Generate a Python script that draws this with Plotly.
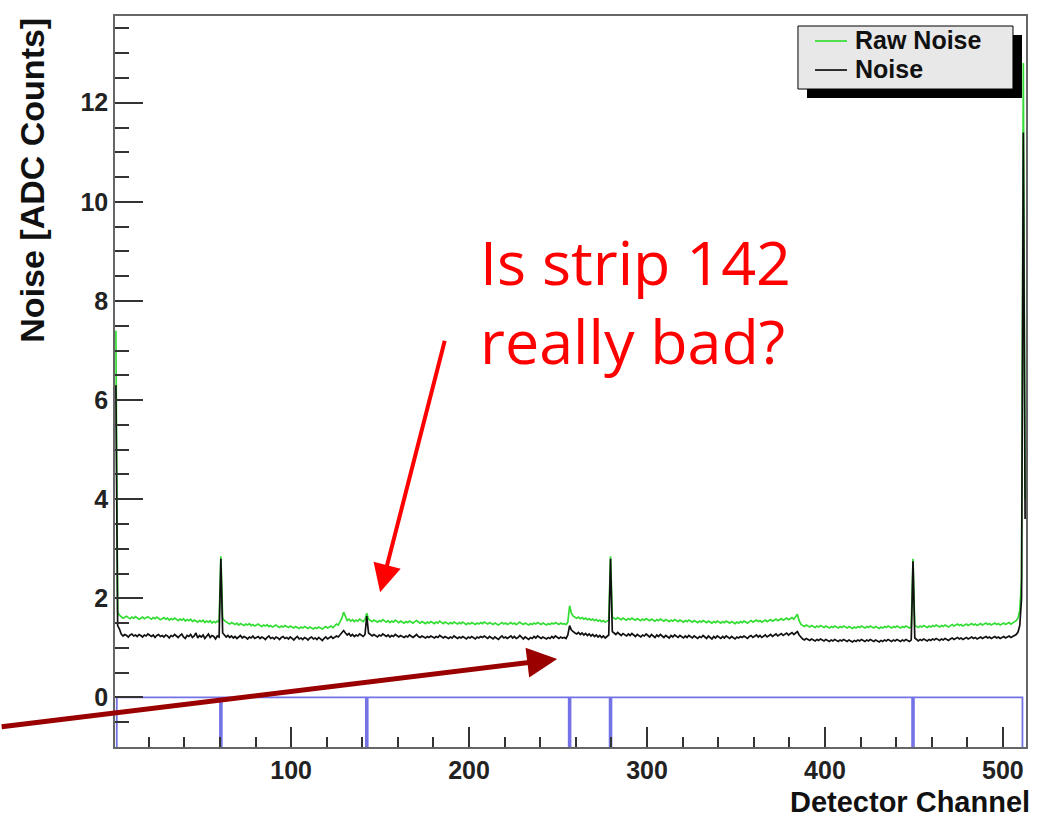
import plotly.graph_objects as go

# ---------------- data ----------------
# per-channel values, index 0 -> channel 1 ... index 511 -> channel 512
raw_noise = [
    7.40, 1.72, 1.66, 1.63, 1.60, 1.62, 1.64, 1.61, 1.59, 1.62, 1.60, 1.63, 1.61, 1.58, 1.60, 1.62,
    1.59, 1.61, 1.63, 1.60, 1.58, 1.61, 1.59, 1.62, 1.60, 1.57, 1.59, 1.61, 1.58, 1.60, 1.56, 1.59,
    1.57, 1.60, 1.58, 1.55, 1.58, 1.56, 1.59, 1.54, 1.57, 1.55, 1.58, 1.53, 1.56, 1.54, 1.52, 1.55,
    1.53, 1.56, 1.51, 1.54, 1.52, 1.55, 1.50, 1.53, 1.51, 1.54, 1.52, 2.85, 1.60, 1.55, 1.52, 1.50,
    1.48, 1.51, 1.49, 1.47, 1.50, 1.46, 1.49, 1.47, 1.45, 1.48, 1.46, 1.49, 1.45, 1.47, 1.44, 1.46,
    1.48, 1.45, 1.43, 1.46, 1.44, 1.47, 1.43, 1.45, 1.42, 1.44, 1.46, 1.43, 1.41, 1.44, 1.42, 1.45,
    1.43, 1.41, 1.44, 1.42, 1.40, 1.43, 1.41, 1.39, 1.42, 1.40, 1.43, 1.41, 1.39, 1.42, 1.40, 1.38,
    1.41, 1.39, 1.42, 1.40, 1.38, 1.41, 1.43, 1.40, 1.42, 1.44, 1.41, 1.45, 1.48, 1.46, 1.52, 1.60,
    1.72, 1.62, 1.55, 1.58, 1.54, 1.57, 1.53, 1.56, 1.54, 1.58, 1.55, 1.53, 1.57, 1.70, 1.58, 1.55,
    1.53, 1.56, 1.54, 1.52, 1.55, 1.53, 1.57, 1.54, 1.52, 1.55, 1.51, 1.54, 1.52, 1.56, 1.53, 1.51,
    1.54, 1.52, 1.50, 1.53, 1.51, 1.54, 1.52, 1.50, 1.53, 1.55, 1.52, 1.50, 1.53, 1.51, 1.49, 1.52,
    1.50, 1.53, 1.51, 1.49, 1.52, 1.50, 1.54, 1.51, 1.49, 1.52, 1.50, 1.48, 1.51, 1.49, 1.52, 1.50,
    1.48, 1.51, 1.49, 1.52, 1.50, 1.47, 1.50, 1.48, 1.51, 1.49, 1.47, 1.50, 1.48, 1.51, 1.49, 1.52,
    1.50, 1.48, 1.51, 1.49, 1.47, 1.50, 1.48, 1.46, 1.49, 1.51, 1.48, 1.50, 1.47, 1.49, 1.51, 1.48,
    1.50, 1.47, 1.49, 1.52, 1.49, 1.47, 1.50, 1.48, 1.46, 1.49, 1.47, 1.50, 1.48, 1.51, 1.49, 1.47,
    1.50, 1.48, 1.46, 1.49, 1.47, 1.50, 1.48, 1.51, 1.49, 1.47, 1.50, 1.48, 1.49, 1.47, 1.52, 1.85,
    1.70, 1.64, 1.62, 1.60, 1.62, 1.59, 1.61, 1.58, 1.60, 1.57, 1.59, 1.56, 1.58, 1.55, 1.57, 1.54,
    1.56, 1.53, 1.55, 1.52, 1.54, 1.56, 2.85, 1.62, 1.60, 1.58, 1.61, 1.59, 1.57, 1.60, 1.58, 1.56,
    1.59, 1.57, 1.60, 1.58, 1.56, 1.59, 1.57, 1.55, 1.58, 1.56, 1.59, 1.57, 1.55, 1.58, 1.56, 1.54,
    1.57, 1.55, 1.58, 1.56, 1.54, 1.57, 1.55, 1.53, 1.56, 1.54, 1.57, 1.55, 1.53, 1.56, 1.54, 1.52,
    1.55, 1.53, 1.56, 1.54, 1.52, 1.55, 1.53, 1.51, 1.54, 1.52, 1.55, 1.53, 1.51, 1.54, 1.52, 1.50,
    1.53, 1.51, 1.54, 1.52, 1.50, 1.53, 1.51, 1.54, 1.52, 1.50, 1.53, 1.51, 1.49, 1.52, 1.50, 1.53,
    1.51, 1.54, 1.52, 1.50, 1.53, 1.55, 1.52, 1.54, 1.56, 1.53, 1.55, 1.52, 1.54, 1.56, 1.53, 1.55,
    1.57, 1.54, 1.56, 1.58, 1.55, 1.57, 1.59, 1.56, 1.58, 1.60, 1.57, 1.59, 1.61, 1.58, 1.62, 1.68,
    1.55, 1.48, 1.45, 1.43, 1.46, 1.44, 1.42, 1.45, 1.43, 1.41, 1.44, 1.42, 1.45, 1.43, 1.41, 1.44,
    1.42, 1.40, 1.43, 1.41, 1.44, 1.42, 1.40, 1.43, 1.41, 1.44, 1.42, 1.40, 1.43, 1.41, 1.39, 1.42,
    1.40, 1.43, 1.41, 1.44, 1.42, 1.40, 1.43, 1.41, 1.44, 1.42, 1.40, 1.43, 1.41, 1.39, 1.42, 1.40,
    1.43, 1.41, 1.44, 1.42, 1.40, 1.43, 1.41, 1.44, 1.42, 1.40, 1.43, 1.41, 1.44, 1.42, 1.40, 1.43,
    2.80, 1.45, 1.43, 1.41, 1.44, 1.42, 1.45, 1.43, 1.41, 1.44, 1.42, 1.45, 1.43, 1.46, 1.44, 1.42,
    1.45, 1.43, 1.46, 1.44, 1.42, 1.45, 1.47, 1.44, 1.46, 1.48, 1.45, 1.47, 1.44, 1.46, 1.48, 1.45,
    1.47, 1.49, 1.46, 1.48, 1.45, 1.47, 1.49, 1.46, 1.48, 1.50, 1.47, 1.49, 1.46, 1.48, 1.50, 1.47,
    1.49, 1.46, 1.48, 1.50, 1.47, 1.49, 1.51, 1.48, 1.50, 1.52, 1.55, 1.60, 1.75, 2.40, 12.80, 4.00,
]

noise = [
    6.30, 1.45, 1.38, 1.28, 1.24, 1.27, 1.25, 1.22, 1.26, 1.28, 1.24, 1.26, 1.23, 1.27, 1.25, 1.22,
    1.26, 1.24, 1.28, 1.25, 1.23, 1.26, 1.21, 1.25, 1.27, 1.23, 1.25, 1.22, 1.26, 1.24, 1.20, 1.25,
    1.23, 1.27, 1.24, 1.21, 1.25, 1.28, 1.22, 1.19, 1.25, 1.23, 1.27, 1.21, 1.24, 1.30, 1.20, 1.25,
    1.22, 1.26, 1.19, 1.24, 1.28, 1.21, 1.25, 1.23, 1.18, 1.24, 1.22, 2.80, 1.30, 1.26, 1.22, 1.25,
    1.21, 1.24, 1.20, 1.23, 1.19, 1.22, 1.25, 1.20, 1.23, 1.21, 1.18, 1.22, 1.20, 1.24, 1.19, 1.21,
    1.23, 1.19, 1.22, 1.20, 1.17, 1.21, 1.24, 1.19, 1.21, 1.18, 1.22, 1.20, 1.17, 1.21, 1.23, 1.19,
    1.21, 1.18, 1.22, 1.19, 1.16, 1.20, 1.23, 1.18, 1.20, 1.17, 1.21, 1.19, 1.16, 1.20, 1.22, 1.18,
    1.20, 1.17, 1.21, 1.18, 1.15, 1.19, 1.22, 1.18, 1.20, 1.23, 1.19, 1.21, 1.24, 1.22, 1.27, 1.31,
    1.35, 1.30, 1.26, 1.29, 1.24, 1.27, 1.23, 1.26, 1.24, 1.28, 1.25, 1.23, 1.27, 1.64, 1.30, 1.27,
    1.24, 1.27, 1.25, 1.22, 1.26, 1.24, 1.28, 1.25, 1.23, 1.26, 1.22, 1.25, 1.23, 1.27, 1.24, 1.22,
    1.25, 1.23, 1.21, 1.24, 1.22, 1.26, 1.23, 1.21, 1.24, 1.27, 1.23, 1.21, 1.24, 1.22, 1.20, 1.23,
    1.21, 1.24, 1.22, 1.20, 1.23, 1.21, 1.25, 1.22, 1.20, 1.23, 1.21, 1.19, 1.22, 1.20, 1.24, 1.21,
    1.19, 1.22, 1.20, 1.23, 1.21, 1.18, 1.22, 1.20, 1.23, 1.21, 1.18, 1.22, 1.20, 1.23, 1.21, 1.24,
    1.22, 1.19, 1.23, 1.21, 1.18, 1.22, 1.20, 1.17, 1.21, 1.24, 1.20, 1.22, 1.19, 1.21, 1.24, 1.20,
    1.23, 1.19, 1.21, 1.25, 1.21, 1.18, 1.22, 1.20, 1.17, 1.21, 1.19, 1.23, 1.20, 1.24, 1.21, 1.19,
    1.22, 1.20, 1.18, 1.21, 1.19, 1.23, 1.20, 1.24, 1.21, 1.19, 1.22, 1.20, 1.21, 1.19, 1.26, 1.45,
    1.36, 1.32, 1.30, 1.28, 1.31, 1.27, 1.30, 1.26, 1.29, 1.25, 1.28, 1.24, 1.27, 1.23, 1.26, 1.22,
    1.25, 1.21, 1.24, 1.20, 1.23, 1.26, 2.80, 1.33, 1.30, 1.27, 1.31, 1.28, 1.25, 1.29, 1.26, 1.24,
    1.28, 1.25, 1.29, 1.26, 1.23, 1.27, 1.25, 1.22, 1.26, 1.24, 1.28, 1.25, 1.22, 1.27, 1.24, 1.21,
    1.26, 1.23, 1.27, 1.24, 1.21, 1.25, 1.23, 1.20, 1.25, 1.22, 1.26, 1.24, 1.21, 1.25, 1.23, 1.20,
    1.24, 1.21, 1.25, 1.23, 1.20, 1.24, 1.22, 1.19, 1.23, 1.21, 1.25, 1.22, 1.19, 1.24, 1.21, 1.18,
    1.23, 1.20, 1.24, 1.22, 1.19, 1.23, 1.20, 1.24, 1.22, 1.19, 1.23, 1.21, 1.18, 1.22, 1.20, 1.23,
    1.21, 1.24, 1.22, 1.19, 1.23, 1.25, 1.21, 1.24, 1.26, 1.22, 1.25, 1.21, 1.24, 1.26, 1.22, 1.25,
    1.27, 1.23, 1.26, 1.28, 1.24, 1.27, 1.29, 1.25, 1.28, 1.30, 1.26, 1.29, 1.31, 1.27, 1.30, 1.33,
    1.26, 1.21, 1.18, 1.16, 1.19, 1.17, 1.15, 1.18, 1.16, 1.14, 1.17, 1.15, 1.18, 1.16, 1.14, 1.17,
    1.15, 1.13, 1.16, 1.14, 1.17, 1.15, 1.13, 1.16, 1.14, 1.17, 1.15, 1.13, 1.16, 1.14, 1.12, 1.15,
    1.13, 1.16, 1.14, 1.17, 1.15, 1.13, 1.16, 1.14, 1.17, 1.15, 1.13, 1.16, 1.14, 1.12, 1.15, 1.13,
    1.16, 1.14, 1.17, 1.15, 1.13, 1.16, 1.14, 1.17, 1.15, 1.13, 1.16, 1.14, 1.17, 1.15, 1.13, 1.16,
    2.75, 1.20, 1.16, 1.14, 1.17, 1.15, 1.18, 1.16, 1.14, 1.17, 1.15, 1.18, 1.16, 1.19, 1.17, 1.15,
    1.18, 1.16, 1.19, 1.17, 1.15, 1.18, 1.20, 1.17, 1.19, 1.21, 1.18, 1.20, 1.17, 1.19, 1.21, 1.18,
    1.20, 1.22, 1.19, 1.21, 1.18, 1.20, 1.22, 1.19, 1.21, 1.23, 1.20, 1.22, 1.19, 1.21, 1.23, 1.20,
    1.22, 1.19, 1.21, 1.23, 1.20, 1.22, 1.24, 1.21, 1.23, 1.25, 1.27, 1.32, 1.45, 2.00, 11.40, 3.60,
]

# channels flagged as bad (0-based index into the arrays above)
bad_index = [0, 59, 141, 255, 278, 448, 510, 511]
flag_good, flag_bad = 0.0, -1.5

channels = [i + 1.5 for i in range(len(noise))]   # bin centres, channels 1..512
flags = [flag_bad if i in bad_index else flag_good for i in range(len(noise))]

x_ticks = [100, 200, 300, 400, 500]
y_ticks = [0, 2, 4, 6, 8, 10, 12]

# ---------------- figure ----------------
fig = go.Figure()
fig.add_trace(go.Scatter(x=channels, y=flags, mode="lines", line_shape="hvh",
                         line=dict(color="#7373e6", width=1.8), showlegend=False))
fig.add_trace(go.Scatter(x=channels, y=raw_noise, mode="lines", name="Raw Noise",
                         line=dict(color="#33dd33", width=1.7), showlegend=False))
fig.add_trace(go.Scatter(x=channels, y=noise, mode="lines", name="Noise",
                         line=dict(color="#111111", width=1.7), showlegend=False))

tickfont = dict(family="Liberation Sans", size=25, color="#222222", weight="bold")
fig.update_layout(
    width=1044, height=820, autosize=False,
    margin=dict(l=115, r=18, t=16, b=73),
    paper_bgcolor="white", plot_bgcolor="white",
    xaxis=dict(range=[1, 513], tickmode="array", tickvals=x_ticks,
               ticks="inside", ticklen=20, tickwidth=1.5, tickcolor="#333333",
               minor=dict(dtick=20, tick0=0, ticks="inside", ticklen=10,
                          tickwidth=1.5, tickcolor="#333333"),
               showgrid=False, zeroline=False, showline=True, mirror=True,
               linecolor="#666666", linewidth=1.5, tickfont=tickfont,
               ticklabelstandoff=0),
    yaxis=dict(range=[-1, 13.75], tickmode="array", tickvals=y_ticks,
               ticks="inside", ticklen=28, tickwidth=1.5, tickcolor="#333333",
               minor=dict(dtick=0.5, tick0=0, ticks="inside", ticklen=14,
                          tickwidth=1.5, tickcolor="#333333"),
               showgrid=False, zeroline=False, showline=True, mirror=True,
               linecolor="#666666", linewidth=1.5, tickfont=tickfont,
               ticklabelstandoff=0),
)

# axis titles
fig.add_annotation(text="Noise [ADC Counts]", xref="paper", yref="paper",
                   x=-0.092, y=1.0, xanchor="center", yanchor="top",
                   textangle=-90, showarrow=False,
                   font=dict(family="Liberation Sans", size=34, color="#111111", weight="bold"))
fig.add_annotation(text="Detector Channel", xref="paper", yref="paper",
                   x=1.005, y=-0.0985, xanchor="right", yanchor="bottom",
                   showarrow=False, borderpad=0,
                   font=dict(family="Liberation Sans", size=29, color="#111111", weight="bold"))

# legend (ROOT style with shadow)
fig.add_shape(type="rect", xref="paper", yref="paper", x0=0.7596, x1=0.9956,
              y0=0.8878, y1=0.9740, fillcolor="black", line=dict(width=0), layer="above")
fig.add_shape(type="rect", xref="paper", yref="paper", x0=0.7497, x1=0.9857,
              y0=0.9001, y1=0.9863, fillcolor="#e8e8e8",
              line=dict(color="black", width=1), layer="above")
fig.add_shape(type="line", xref="paper", yref="paper", x0=0.7684, x1=0.8035,
              y0=0.9658, y1=0.9658, line=dict(color="#33dd33", width=1.7), layer="above")
fig.add_shape(type="line", xref="paper", yref="paper", x0=0.7684, x1=0.8035,
              y0=0.9261, y1=0.9261, line=dict(color="#111111", width=1.7), layer="above")
legfont = dict(family="Liberation Sans", size=25, color="#111111", weight="bold")
fig.add_annotation(text="Raw Noise", xref="paper", yref="paper", x=0.8112, y=0.9672,
                   xanchor="left", yanchor="middle", showarrow=False, borderpad=0,
                   font=legfont)
fig.add_annotation(text="Noise", xref="paper", yref="paper", x=0.8112, y=0.9275,
                   xanchor="left", yanchor="middle", showarrow=False, borderpad=0,
                   font=legfont)

# red question text (one text block, two lines)
fig.add_annotation(text="Is strip 142<br>really bad?", xref="paper", yref="paper",
                   x=0.3985, y=0.723, xanchor="left", yanchor="top", align="left",
                   showarrow=False,
                   font=dict(family="Open Sans", size=61, color="#ff0000"))

# arrows
fig.add_annotation(text="", x=150, y=2.12, xref="x", yref="y", ax=65, ay=-253,
                   showarrow=True, arrowhead=2, arrowsize=1.4, arrowwidth=4,
                   arrowcolor="#ff0000")
fig.add_annotation(text="", x=249.5, y=0.775, xref="x", yref="y", ax=-557, ay=68,
                   showarrow=True, arrowhead=2, arrowsize=1.2, arrowwidth=5,
                   arrowcolor="#9a0000")

fig.write_html("out.html")
